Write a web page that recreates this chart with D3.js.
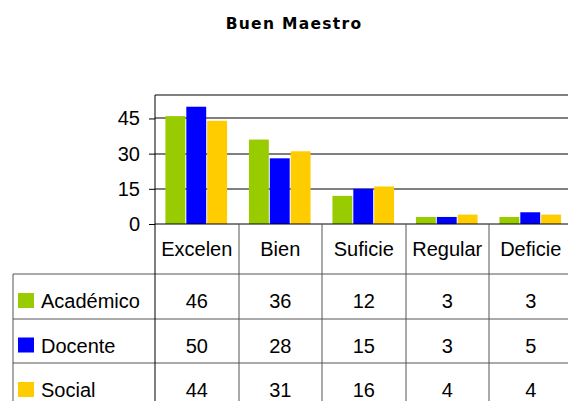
<!DOCTYPE html>
<html>
<head>
<meta charset="utf-8">
<style>
  body { margin: 0; background: #fff; }
  svg text { font-family: "Liberation Sans", Arial, sans-serif; font-size: 20px; fill: #000; }
  .title { font-family: "DejaVu Sans", Verdana, sans-serif; font-weight: bold; font-size: 15.5px; letter-spacing: 1.3px; }
</style>
<script src="https://cdn.jsdelivr.net/npm/d3@7/dist/d3.min.js"></script>
</head>
<body>
<svg width="568" height="401"></svg>
<script>
// datos
var categorias = ["Excelen", "Bien", "Suficie", "Regular", "Deficie"];
var series = ["Académico", "Docente", "Social"];
var academico = [46, 36, 12, 3, 3];
var docente = [50, 28, 15, 3, 5];
var social = [44, 31, 16, 4, 4];
var ticks = [0, 15, 30, 45];
var colores = ["#99cc00", "#0000ff", "#ffcc00"];

var valores = [academico, docente, social];

var svg = d3.select("svg");

var plotLeft = 155, plotRight = 572.5, plotTop = 95, base = 224;
var rowTop = 274, rowH = 44.5, tableLeft = 13;

var x = d3.scaleBand().domain(categorias).range([plotLeft, plotRight]);
var xs = d3.scaleBand().domain(series).range([0, x.bandwidth()]).paddingOuter(0.5);
var y = d3.scaleLinear().domain([0, 55]).range([base, plotTop]);
var color = d3.scaleOrdinal().domain(series).range(colores);

svg.append("text").attr("class", "title")
  .attr("x", 294).attr("y", 29).attr("text-anchor", "middle")
  .text("Buen Maestro");

// gridlines
svg.append("g").selectAll("line").data(ticks.slice(1)).enter().append("line")
  .attr("x1", plotLeft).attr("x2", 568)
  .attr("y1", function(d) { return Math.round(y(d)); })
  .attr("y2", function(d) { return Math.round(y(d)); })
  .attr("stroke", "#000");

// borde superior
svg.append("line").attr("x1", plotLeft).attr("x2", 568).attr("y1", plotTop).attr("y2", plotTop)
  .attr("stroke", "#808080").attr("stroke-width", 2);

// barras
svg.append("g").selectAll("g").data(categorias).enter().append("g")
  .attr("transform", function(d) { return "translate(" + x(d) + ",0)"; })
  .selectAll("rect")
  .data(function(d, i) { return series.map(function(s, j) { return { s: s, v: valores[j][i] }; }); })
  .enter().append("rect")
  .attr("x", function(d) { return xs(d.s); })
  .attr("width", xs.bandwidth() - 1)
  .attr("y", function(d) { return y(d.v); })
  .attr("height", function(d) { return base - y(d.v); })
  .attr("fill", function(d) { return color(d.s); });

// eje y
var yAxis = svg.append("g").attr("transform", "translate(" + plotLeft + ",0)")
  .call(d3.axisLeft(y).tickValues(ticks).tickSize(6).tickPadding(9));
yAxis.select(".domain").remove();
yAxis.selectAll("line").attr("stroke", "#000");
yAxis.selectAll("text").attr("font-size", null).attr("font-family", null).style("font-size", "20px");

// lineas de la tabla
var g = svg.append("g").attr("stroke", "#000").attr("stroke-width", 1);
g.append("line").attr("x1", plotLeft).attr("x2", 568).attr("y1", base).attr("y2", base);
g.selectAll(".row").data(d3.range(series.length + 1)).enter().append("line")
  .attr("x1", tableLeft).attr("x2", 568)
  .attr("y1", function(i) { return Math.round(rowTop + i * rowH); })
  .attr("y2", function(i) { return Math.round(rowTop + i * rowH); })
  .attr("stroke", "#555");
g.selectAll(".col").data(categorias).enter().append("line")
  .attr("x1", function(d) { return Math.round(x(d)); })
  .attr("x2", function(d) { return Math.round(x(d)); })
  .attr("y1", function(d, i) { return i === 0 ? plotTop : base; })
  .attr("y2", 401)
  .attr("stroke", function(d, i) { return i === 0 ? "#000" : "#555"; });
g.append("line").attr("x1", tableLeft).attr("x2", tableLeft).attr("y1", rowTop).attr("y2", 401)
  .attr("stroke", "#555");

// encabezados
svg.append("g").selectAll("text").data(categorias).enter().append("text")
  .attr("x", function(d) { return x(d) + x.bandwidth() / 2; })
  .attr("y", 256).attr("text-anchor", "middle")
  .text(function(d) { return d; });

// filas
var rows = svg.append("g").selectAll("g").data(series).enter().append("g")
  .attr("transform", function(d, i) { return "translate(0," + (rowTop + i * rowH) + ")"; });
rows.append("rect").attr("x", 18).attr("y", 19).attr("width", 16).attr("height", 15)
  .attr("fill", function(d) { return color(d); });
rows.append("text").attr("x", 41).attr("y", 34).text(function(d) { return d; });
rows.selectAll(".v").data(function(d, i) { return valores[i]; }).enter().append("text")
  .attr("x", function(d, i) { return x(categorias[i]) + x.bandwidth() / 2; })
  .attr("y", 34).attr("text-anchor", "middle")
  .text(function(d) { return d; });
</script>
</body>
</html>
